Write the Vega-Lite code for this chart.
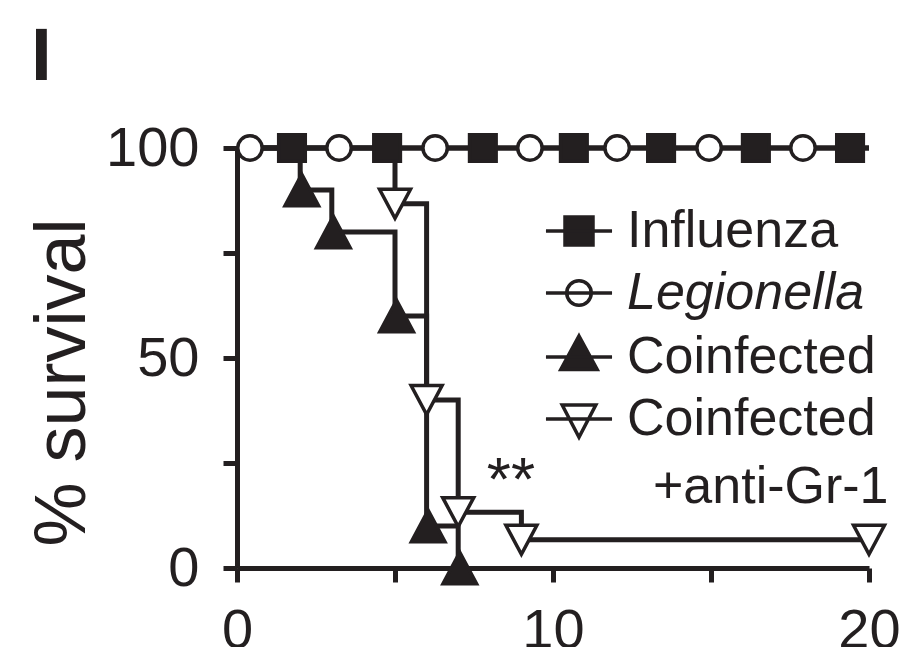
{
  "$schema": "https://vega.github.io/schema/vega-lite/v6.json",
  "width": 632,
  "height": 420,
  "autosize": {"type": "none"},
  "padding": {"left": 237, "top": 148, "right": 48, "bottom": 79},
  "background": "white",
  "config": {
    "view": {"stroke": null},
    "font": "Liberation Sans",
    "axis": {
      "domainColor": "#231f20", "tickColor": "#231f20", "labelColor": "#231f20", "titleColor": "#231f20",
      "domainWidth": 5, "tickWidth": 5, "tickSize": 14, "grid": false,
      "labelFont": "Liberation Sans", "labelFontSize": 56, "titleFont": "Liberation Sans",
      "labelFlush": false, "labelOverlap": false, "labelBound": false
    },
    "legend": {
      "orient": "none", "legendX": 316, "legendY": 57, "symbolSize": 784, "symbolStrokeWidth": 3.5, "symbolStrokeColor": "#231f20", "symbolOpacity": 1,
      "labelFontSize": 52, "labelFont": "Liberation Sans", "labelColor": "#231f20", "labelOffset": 22, "rowPadding": 10, "padding": 0, "labelLimit": 0
    }
  },
  "title": {"text": "I", "anchor": "start", "frame": "group", "fontSize": 75, "fontWeight": "bold", "font": "Liberation Sans", "color": "#231f20", "dx": -206, "offset": 24},
  "datasets": {
    "curves": [
      {"series": "Influenza", "day": 0, "surv": 100},
      {"series": "Influenza", "day": 20, "surv": 100},
      {"series": "Legionella", "day": 0, "surv": 100},
      {"series": "Legionella", "day": 20, "surv": 100},
      {"series": "Coinfected", "day": 0, "surv": 100},
      {"series": "Coinfected", "day": 2, "surv": 90},
      {"series": "Coinfected", "day": 3, "surv": 80},
      {"series": "Coinfected", "day": 5, "surv": 60},
      {"series": "Coinfected", "day": 6, "surv": 10},
      {"series": "Coinfected", "day": 7, "surv": 0},
      {"series": "Coinfected+anti-Gr-1", "day": 0, "surv": 100},
      {"series": "Coinfected+anti-Gr-1", "day": 5, "surv": 86.7},
      {"series": "Coinfected+anti-Gr-1", "day": 6, "surv": 40},
      {"series": "Coinfected+anti-Gr-1", "day": 7, "surv": 13.3},
      {"series": "Coinfected+anti-Gr-1", "day": 9, "surv": 6.7},
      {"series": "Coinfected+anti-Gr-1", "day": 20, "surv": 6.7}
    ],
    "markers": [
      {"series": "Legionella", "day": 0.41, "surv": 100},
      {"series": "Legionella", "day": 3.23, "surv": 100},
      {"series": "Legionella", "day": 6.27, "surv": 100},
      {"series": "Legionella", "day": 9.27, "surv": 100},
      {"series": "Legionella", "day": 12.03, "surv": 100},
      {"series": "Legionella", "day": 14.94, "surv": 100},
      {"series": "Legionella", "day": 17.91, "surv": 100},
      {"series": "Influenza", "day": 1.74, "surv": 100},
      {"series": "Influenza", "day": 4.75, "surv": 100},
      {"series": "Influenza", "day": 7.78, "surv": 100},
      {"series": "Influenza", "day": 10.66, "surv": 100},
      {"series": "Influenza", "day": 13.42, "surv": 100},
      {"series": "Influenza", "day": 16.42, "surv": 100},
      {"series": "Influenza", "day": 19.4, "surv": 100},
      {"series": "Coinfected", "day": 2.05, "surv": 90},
      {"series": "Coinfected", "day": 3.05, "surv": 80},
      {"series": "Coinfected", "day": 5.05, "surv": 60},
      {"series": "Coinfected", "day": 6.05, "surv": 10},
      {"series": "Coinfected", "day": 7.05, "surv": 0},
      {"series": "Coinfected+anti-Gr-1", "day": 5, "surv": 86.7},
      {"series": "Coinfected+anti-Gr-1", "day": 6, "surv": 40},
      {"series": "Coinfected+anti-Gr-1", "day": 7, "surv": 13.3},
      {"series": "Coinfected+anti-Gr-1", "day": 9, "surv": 6.7},
      {"series": "Coinfected+anti-Gr-1", "day": 20, "surv": 6.7}
    ],
    "notes": [
      {"note": "**"}
    ]
  },
  "layer": [
    {
      "data": {"name": "curves"},
      "mark": {"type": "line", "interpolate": "step-after", "strokeWidth": 5, "color": "#231f20", "strokeJoin": "miter"},
      "encoding": {
        "x": {"field": "day", "type": "quantitative", "scale": {"domain": [0, 20], "nice": false},
          "axis": {"title": null, "values": [0, 5, 10, 15, 20], "labelExpr": "datum.value % 10 == 0 ? datum.label : ''", "labelPadding": 21,
            "encode": {"labels": {"update": {"dx": {"signal": "datum.value == 0 ? -4 : datum.value == 10 ? 3 : 20"}}}}}},
        "y": {"field": "surv", "type": "quantitative", "scale": {"domain": [0, 100], "nice": false},
          "axis": {"title": "% survival", "values": [0, 25, 50, 75, 100], "labelExpr": "datum.value % 50 == 0 ? datum.label : ''", "labelPadding": 24,
            "titleFontSize": 72, "titleFontWeight": "normal", "titleX": -175, "titleY": 234, "titleAngle": -90, "titleAlign": "center", "titleBaseline": "middle",
            "encode": {"labels": {"update": {"dy": {"signal": "datum.value == 0 ? 20 : datum.value == 100 ? 9 : 4"}}}}}},
        "detail": {"field": "series"}
      }
    },
    {
      "data": {"name": "markers"},
      "mark": {"type": "point", "filled": true, "stroke": "#231f20", "strokeWidth": 3.5, "size": 400, "opacity": 1},
      "encoding": {
        "x": {"field": "day", "type": "quantitative"},
        "y": {"field": "surv", "type": "quantitative"},
        "shape": {"field": "series", "type": "nominal", "legend": null,
          "scale": {"domain": ["Influenza", "Legionella", "Coinfected", "Coinfected+anti-Gr-1"],
            "range": ["M-1.33,-1.33H1.33V1.33H-1.33Z", "M1.22,0A1.22,1.22 0 1,1 -1.22,0A1.22,1.22 0 1,1 1.22,0Z", "M0,-1.58L1.68,1.58L-1.68,1.58Z", "M-1.55,-1.45L1.55,-1.45L0,1.45Z"]}},
        "fill": {"field": "series", "type": "nominal", "legend": null,
          "scale": {"domain": ["Influenza", "Legionella", "Coinfected", "Coinfected+anti-Gr-1"], "range": ["#231f20", "white", "#231f20", "white"]}}
      }
    },
    {
      "data": {"name": "markers"},
      "transform": [{"filter": "false"}],
      "mark": {"type": "point", "filled": true, "stroke": "#231f20", "strokeWidth": 3.5, "opacity": 1},
      "encoding": {
        "x": {"field": "day", "type": "quantitative"},
        "y": {"field": "surv", "type": "quantitative"},
        "shape": {"field": "series", "type": "nominal",
          "scale": {"domain": ["Influenza", "Legionella", "Coinfected", "Coinfected+anti-Gr-1"],
            "range": ["M-2.36,0H2.36M-1,-1H1V1H-1Z", "M-2.36,0H2.36M0.875,0A0.875,0.875 0 1,1 -0.875,0A0.875,0.875 0 1,1 0.875,0Z", "M-2.36,0H2.36M0,-1.5L1.3,0.9L-1.3,0.9Z", "M-2.36,0H2.36M-1.2,-1.0L1.2,-1.0L0,1.3Z"]},
          "legend": {"title": null,
            "labelExpr": "datum.label == 'Coinfected+anti-Gr-1' ? ['Coinfected', '\u200b\u2002+anti-Gr-1'] : datum.label",
            "encode": {
              "symbols": {"update": {"stroke": {"value": "#231f20"}, "strokeWidth": {"value": 3.5}, "opacity": {"value": 1}}},
              "labels": {"update": {"fontStyle": {"signal": "datum.value == 'Legionella' ? 'italic' : 'normal'"}, "lineHeight": {"value": 68}}}}}},
        "fill": {"field": "series", "type": "nominal",
          "scale": {"domain": ["Influenza", "Legionella", "Coinfected", "Coinfected+anti-Gr-1"], "range": ["#231f20", "white", "#231f20", "white"]},
          "legend": {"title": null,
            "labelExpr": "datum.label == 'Coinfected+anti-Gr-1' ? ['Coinfected', '\u200b\u2002+anti-Gr-1'] : datum.label",
            "encode": {
              "symbols": {"update": {"stroke": {"value": "#231f20"}, "strokeWidth": {"value": 3.5}, "opacity": {"value": 1}}},
              "labels": {"update": {"fontStyle": {"signal": "datum.value == 'Legionella' ? 'italic' : 'normal'"}, "lineHeight": {"value": 68}}}}}}
      }
    },
    {
      "data": {"name": "notes"},
      "mark": {"type": "text", "fontSize": 62, "font": "Liberation Sans", "color": "#231f20", "align": "center", "baseline": "alphabetic"},
      "encoding": {"x": {"datum": 8.67, "type": "quantitative"}, "y": {"datum": 16.2, "type": "quantitative"}, "text": {"field": "note"}}
    }
  ],
  "resolve": {"scale": {"shape": "independent", "fill": "independent"}, "legend": {"shape": "independent", "fill": "independent"}}
}
